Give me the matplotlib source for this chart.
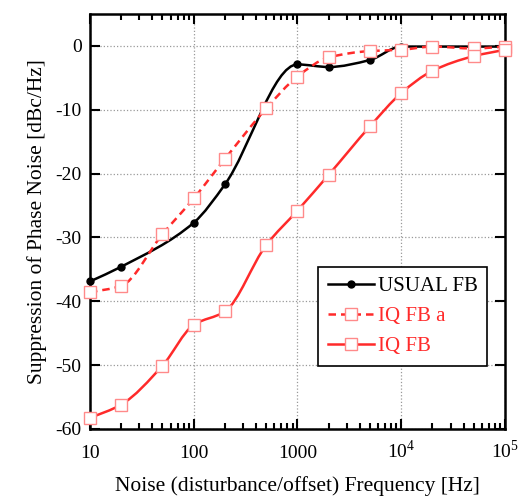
import numpy as np
import matplotlib
matplotlib.use("Agg")
import matplotlib.pyplot as plt
from matplotlib.path import Path
from matplotlib.patches import PathPatch
from matplotlib.lines import Line2D
from matplotlib.ticker import FixedLocator, FixedFormatter, LogLocator, NullFormatter

plt.rcParams["font.family"] = ["Liberation Serif", "DejaVu Serif"]
plt.rcParams["axes.unicode_minus"] = False
plt.rcParams["mathtext.fontset"] = "custom"
plt.rcParams["mathtext.rm"] = "Liberation Serif"

# Donnees
freq_usual = [10, 20, 100, 200, 1000, 2000, 5000, 10000, 100000]
supp_usual = [-36.9, -34.6, -27.7, -21.7, -2.9, -3.3, -2.2, -0.1, -0.1]

freq_iq = [10, 20, 50, 100, 200, 500, 1000, 2000, 5000, 10000, 20000, 50000, 100000]
supp_iq_a = [-38.6, -37.6, -29.5, -23.9, -17.7, -9.8, -4.8, -1.8, -0.8, -0.6, -0.1, -0.4, -0.1]
supp_iq = [-58.3, -56.2, -50.1, -43.7, -41.6, -31.2, -25.8, -20.2, -12.6, -7.4, -3.9, -1.6, -0.6]

labels = ["USUAL FB", "IQ FB a", "IQ FB"]
xtick_labels = ["10", "100", "1000", r"10$^4$", r"10$^5$"]
red = "#ff2a2a"
sq_edge = "#ff8a8a"


def courbe_lisse(x, y):
    # Hermite monotone (type PCHIP) en log(x), ecrit en Bezier cubiques
    lx = np.log10(np.asarray(x, float))
    yy = np.asarray(y, float)
    h = np.diff(lx)
    d = np.diff(yy) / h
    m = np.zeros_like(yy)
    for i in range(1, len(yy) - 1):
        if d[i - 1] * d[i] > 0:
            w1 = 2 * h[i] + h[i - 1]
            w2 = h[i] + 2 * h[i - 1]
            m[i] = (w1 + w2) / (w1 / d[i - 1] + w2 / d[i])
    m[0] = d[0]
    m[-1] = d[-1]
    verts = [(lx[0], yy[0])]
    codes = [Path.MOVETO]
    for i in range(len(h)):
        verts += [(lx[i] + h[i] / 3, yy[i] + m[i] * h[i] / 3),
                  (lx[i + 1] - h[i] / 3, yy[i + 1] - m[i + 1] * h[i] / 3),
                  (lx[i + 1], yy[i + 1])]
        codes += [Path.CURVE4] * 3
    verts = np.array(verts)
    verts[:, 0] = 10 ** verts[:, 0]
    return Path(verts, codes)


fig = plt.figure(figsize=(5.2, 5.01), dpi=100)
ax = fig.add_axes([0.173, 0.144, 0.798, 0.828])
ax.set_xscale("log")

series = [
    (freq_usual, supp_usual, "black", "-", dict(marker="o", ms=5, mfc="black", mec="black")),
    (freq_iq, supp_iq_a, red, (0, (3, 2)), dict(marker="s", ms=8, mfc="white", mec=sq_edge, mew=1.0)),
    (freq_iq, supp_iq, red, "-", dict(marker="s", ms=8, mfc="white", mec=sq_edge, mew=1.0)),
]

handles = []
for (x, y, c, ls, mk), lab in zip(series, labels):
    patch = PathPatch(courbe_lisse(x, y), fill=False, edgecolor=c, lw=1.8,
                      linestyle=ls, zorder=2)
    ax.add_patch(patch)
    ax.plot(x, y, linestyle="none", zorder=3, clip_on=False, **mk)
    handles.append(Line2D([], [], color=c, lw=1.8, linestyle=ls, **mk))

ax.set_xlim(10, 1e5)
ax.set_ylim(-60, 5)

ax.xaxis.set_major_locator(FixedLocator([10, 100, 1000, 1e4, 1e5]))
ax.xaxis.set_major_formatter(FixedFormatter(xtick_labels))
ax.xaxis.set_minor_locator(LogLocator(base=10, subs=np.arange(2, 10), numticks=20))
ax.xaxis.set_minor_formatter(NullFormatter())
ax.set_yticks([0, -10, -20, -30, -40, -50, -60])

ax.tick_params(which="both", direction="in", top=True, right=True, width=1.5,
               labelsize=14)
ax.tick_params(axis="x", pad=21)
ax.tick_params(axis="y", pad=6)
ax.tick_params(which="major", length=7)
ax.tick_params(which="minor", length=4)
for s in ax.spines.values():
    s.set_linewidth(1.8)
for lbl in ax.get_xticklabels():
    lbl.set_verticalalignment("baseline")

ax.grid(True, which="major", linestyle=":", color="#999999", lw=0.9)

ax.set_xlabel("Noise (disturbance/offset) Frequency [Hz]", fontsize=15.5)
ax.set_ylabel("Suppression of Phase Noise [dBc/Hz]", fontsize=15.5, labelpad=6)
ax.xaxis.set_label_coords(0.5, -0.113)

leg = ax.legend(handles, labels, loc="lower right", bbox_to_anchor=(0.957, 0.152),
                borderaxespad=0, fontsize=15, frameon=True, fancybox=False,
                edgecolor="black", handlelength=2.2, handletextpad=0.2,
                borderpad=0.45, labelspacing=0.5)
leg.get_frame().set_linewidth(1.2)
leg.get_frame().set_alpha(1)
for t, c in zip(leg.get_texts(), ["black", red, red]):
    t.set_color(c)

fig.savefig("out.png", dpi=100)
